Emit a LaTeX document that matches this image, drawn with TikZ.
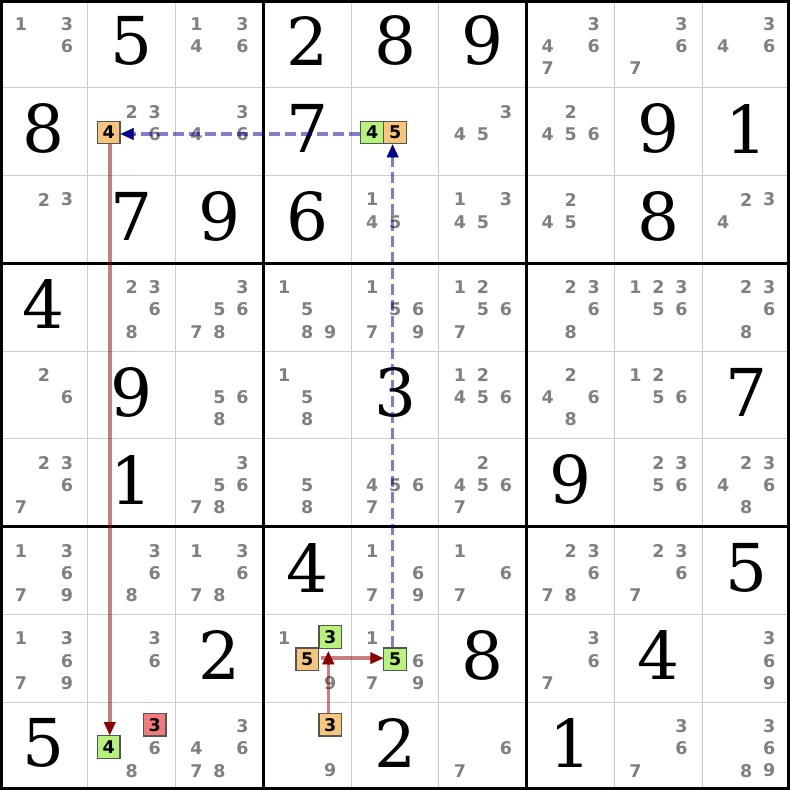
\documentclass[tikz,border=0pt]{standalone}
\usepackage{fontspec}
\usetikzlibrary{arrows.meta,calc}
\newfontfamily\candfont{DejaVu Sans}
\newfontfamily\givenfont{DejaVu Serif}
\definecolor{candgray}{RGB}{128,128,128}
\definecolor{gridgray}{RGB}{205,205,205}
\definecolor{boxborder}{RGB}{85,85,85}
\definecolor{hlgreen}{RGB}{183,242,122}
\definecolor{hlorange}{RGB}{248,197,124}
\definecolor{hlred}{RGB}{244,123,123}
\definecolor{linkblue}{RGB}{0,0,150}
\definecolor{tipblue}{RGB}{0,0,140}
\definecolor{linkred}{RGB}{145,0,0}
\definecolor{tipred}{RGB}{140,0,0}
\def\cs{87.7778}
\newcommand{\given}[3]{\node[given] (g#1#2) at ({(#2+0.5)*\cs},{(#1+0.5)*\cs-3}) {#3};}
\newcommand{\cands}[3]{%
  \foreach \d in {#3} {%
    \pgfmathtruncatemacro\rr{div(\d-1,3)}%
    \pgfmathtruncatemacro\cc{mod(\d-1,3)}%
    \node[cand] (c#1#2\d) at ({#2*\cs+21+23*\cc},{#1*\cs+24+22.2*\rr}) {\d};
  }}
\newcommand{\boxcand}[4]{%
  \pgfmathtruncatemacro\rr{div(#4-1,3)}%
  \pgfmathtruncatemacro\cc{mod(#4-1,3)}%
  \node[hl, fill=#1] (b#2#3#4) at ({#3*\cs+21+23*\cc},{#2*\cs+22.5+22.2*\rr}) {#4};}
\tikzset{
  given/.style={inner sep=0pt, text=black, font=\givenfont\fontsize{66}{66}\selectfont},
  cand/.style={inner sep=0pt, text=candgray, font=\candfont\bfseries\fontsize{17.5}{17.5}\selectfont},
  hl/.style={draw=boxborder, line width=1.2pt, minimum size=22.5pt, inner sep=0pt, text=black,
    font=\candfont\bfseries\fontsize{17.5}{17.5}\selectfont},
  thingrid/.style={draw=gridgray, line width=1pt},
  thickgrid/.style={draw=black, line width=3pt},
  bluelink/.style={draw=linkblue, draw opacity=0.5, line width=3.5pt, dash pattern=on 11pt off 5pt, shorten >=11pt},
  redlink/.style={draw=linkred, draw opacity=0.5, line width=3.5pt, shorten >=11pt},
  bluetip/.style={draw=tipblue, line width=0.2pt, -{Triangle[length=13pt,width=12pt,color=tipblue]}},
  redtip/.style={draw=tipred, line width=0.2pt, -{Triangle[length=13pt,width=12pt,color=tipred]}}
}
\begin{document}
\begin{tikzpicture}[x=1pt,y=-1pt]
\useasboundingbox (0,0) rectangle (790,790);
\fill[white] (0,0) rectangle (790,790);
\foreach \i in {1,2,4,5,7,8} {
  \draw[thingrid] (\i*\cs,0) -- (\i*\cs,790);
  \draw[thingrid] (0,\i*\cs) -- (790,\i*\cs);
}
\foreach \i in {3,6} {
  \draw[thickgrid] (\i*\cs,0) -- (\i*\cs,790);
  \draw[thickgrid] (0,\i*\cs) -- (790,\i*\cs);
}
\draw[thickgrid] (1.5,1.5) rectangle (788.5,788.5);
% row 0
\cands{0}{0}{1,3,6} \given{0}{1}{5} \cands{0}{2}{1,3,4,6}
\given{0}{3}{2} \given{0}{4}{8} \given{0}{5}{9}
\cands{0}{6}{3,4,6,7} \cands{0}{7}{3,6,7} \cands{0}{8}{3,4,6}
% row 1
\given{1}{0}{8} \cands{1}{1}{2,3,6} \boxcand{hlorange}{1}{1}{4} \cands{1}{2}{3,4,6}
\given{1}{3}{7} \boxcand{hlgreen}{1}{4}{4} \boxcand{hlorange}{1}{4}{5} \cands{1}{5}{3,4,5}
\cands{1}{6}{2,4,5,6} \given{1}{7}{9} \given{1}{8}{1}
% row 2
\cands{2}{0}{2,3} \given{2}{1}{7} \given{2}{2}{9}
\given{2}{3}{6} \cands{2}{4}{1,4,5} \cands{2}{5}{1,3,4,5}
\cands{2}{6}{2,4,5} \given{2}{7}{8} \cands{2}{8}{2,3,4}
% row 3
\given{3}{0}{4} \cands{3}{1}{2,3,6,8} \cands{3}{2}{3,5,6,7,8}
\cands{3}{3}{1,5,8,9} \cands{3}{4}{1,5,6,7,9} \cands{3}{5}{1,2,5,6,7}
\cands{3}{6}{2,3,6,8} \cands{3}{7}{1,2,3,5,6} \cands{3}{8}{2,3,6,8}
% row 4
\cands{4}{0}{2,6} \given{4}{1}{9} \cands{4}{2}{5,6,8}
\cands{4}{3}{1,5,8} \given{4}{4}{3} \cands{4}{5}{1,2,4,5,6}
\cands{4}{6}{2,4,6,8} \cands{4}{7}{1,2,5,6} \given{4}{8}{7}
% row 5
\cands{5}{0}{2,3,6,7} \given{5}{1}{1} \cands{5}{2}{3,5,6,7,8}
\cands{5}{3}{5,8} \cands{5}{4}{4,5,6,7} \cands{5}{5}{2,4,5,6,7}
\given{5}{6}{9} \cands{5}{7}{2,3,5,6} \cands{5}{8}{2,3,4,6,8}
% row 6
\cands{6}{0}{1,3,6,7,9} \cands{6}{1}{3,6,8} \cands{6}{2}{1,3,6,7,8}
\given{6}{3}{4} \cands{6}{4}{1,6,7,9} \cands{6}{5}{1,6,7}
\cands{6}{6}{2,3,6,7,8} \cands{6}{7}{2,3,6,7} \given{6}{8}{5}
% row 7
\cands{7}{0}{1,3,6,7,9} \cands{7}{1}{3,6} \given{7}{2}{2}
\cands{7}{3}{1,9} \boxcand{hlgreen}{7}{3}{3} \boxcand{hlorange}{7}{3}{5}
\cands{7}{4}{1,6,7,9} \boxcand{hlgreen}{7}{4}{5} \given{7}{5}{8}
\cands{7}{6}{3,6,7} \given{7}{7}{4} \cands{7}{8}{3,6,9}
% row 8
\given{8}{0}{5} \cands{8}{1}{6,8} \boxcand{hlred}{8}{1}{3} \boxcand{hlgreen}{8}{1}{4}
\cands{8}{2}{3,4,6,7,8}
\boxcand{hlorange}{8}{3}{3} \cands{8}{3}{9} \given{8}{4}{2} \cands{8}{5}{6,7}
\given{8}{6}{1} \cands{8}{7}{3,6,7} \cands{8}{8}{3,6,8,9}
% links
\coordinate (bA) at ([yshift=-1.5pt]b144.west);
\coordinate (bB) at ([yshift=-1.5pt]b114.east);
\draw[bluelink] (bA) -- (bB);
\draw[bluetip] ($(bB)!13pt!(bA)$) -- (bB);
\coordinate (bC) at ([xshift=-2.5pt]b745.north);
\coordinate (bD) at ([xshift=-2.5pt]b145.south);
\draw[bluelink] (bC) -- (bD);
\draw[bluetip] ($(bD)!13pt!(bC)$) -- (bD);
\coordinate (rA) at ([xshift=1pt]b114.south);
\coordinate (rB) at ([xshift=1pt]b814.north);
\draw[redlink] (rA) -- (rB);
\draw[redtip] ($(rB)!13pt!(rA)$) -- (rB);
\coordinate (rC) at ([xshift=-2pt]b833.north);
\coordinate (rD) at ([xshift=-2pt,yshift=-2.5pt]b733.south);
\draw[redlink] (rC) -- (rD);
\draw[redtip] ($(rD)!13pt!(rC)$) -- (rD);
\coordinate (rE) at ([xshift=2pt,yshift=1pt]b735.east);
\coordinate (rF) at ([yshift=1pt]b745.west);
\draw[redlink] (rE) -- (rF);
\draw[redtip] ($(rF)!13pt!(rE)$) -- (rF);
\end{tikzpicture}
\end{document}
